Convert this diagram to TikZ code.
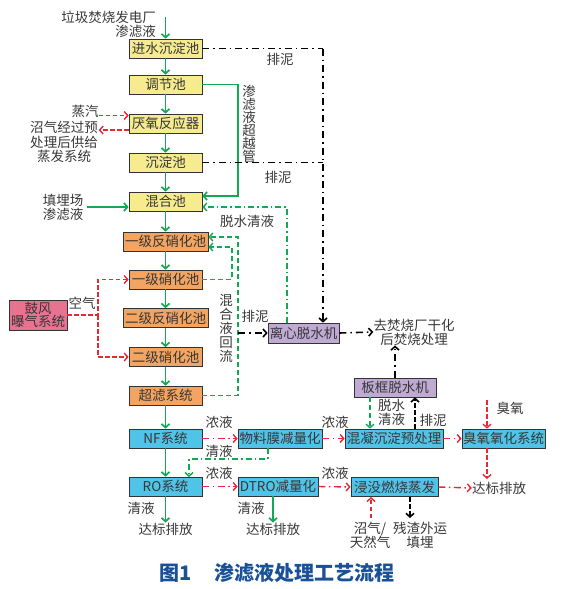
\documentclass[tikz,border=0pt]{standalone}
\usepackage{fontspec}
\setmainfont{Noto Sans CJK SC}
\usetikzlibrary{arrows.meta,calc}
\definecolor{yel}{RGB}{246,236,143}
\definecolor{org}{RGB}{242,164,96}
\definecolor{blu}{RGB}{80,195,232}
\definecolor{pur}{RGB}{191,170,212}
\definecolor{pnk}{RGB}{232,115,145}
\definecolor{grn}{RGB}{20,168,85}
\definecolor{rd}{RGB}{232,40,50}
\definecolor{txt}{RGB}{55,55,55}
\definecolor{capblue}{RGB}{25,80,150}
\tikzset{
  bx/.style={draw=black!80, line width=0.7pt, minimum height=19pt, minimum width=73pt, inner sep=0pt, text=txt},
  yb/.style={bx, fill=yel},
  ob/.style={bx, fill=org},
  bb/.style={bx, fill=blu},
  pb/.style={bx, fill=pur},
  lbl/.style={text=txt, inner sep=0pt},
  tip/.style={-{Straight Barb[length=3.6pt,width=8pt]}},
  gs/.style={draw=grn, line width=1.7pt},
  gdash/.style={draw=grn, line width=1.4pt, dash pattern=on 5pt off 3pt},
  gdd/.style={draw=grn, line width=1.4pt, dash pattern=on 6pt off 3pt on 1.5pt off 3pt},
  rdash/.style={draw=rd, line width=1.4pt, dash pattern=on 4.5pt off 2.5pt},
  rdd/.style={draw=rd, line width=1.4pt, dash pattern=on 7pt off 3.5pt on 1.5pt off 3.5pt},
  bdd/.style={draw=black, line width=1.6pt, dash pattern=on 7pt off 4pt on 1.5pt off 4pt},
  bdash/.style={draw=black, line width=1.6pt, dash pattern=on 4.5pt off 2.5pt}
}
\begin{document}
\begin{tikzpicture}[x=1pt,y=-1pt,font=\fontsize{13.5}{14}\selectfont]
\useasboundingbox (0,0) rectangle (565,589);
% main column
\node[yb] (n1) at (165.5,48.5) {进水沉淀池};
\node[yb] (n2) at (165.5,84.5) {调节池};
\node[yb] (n3) at (165.5,123.5) {厌氧反应器};
\node[yb] (n4) at (165.5,162.5) {沉淀池};
\node[yb] (n5) at (165.5,201.5) {混合池};
\node[ob,minimum width=85pt] (n6) at (165.5,241.5) {一级反硝化池};
\node[ob] (n7) at (165.5,279.5) {一级硝化池};
\node[ob,minimum width=85pt] (n8) at (165.5,318) {二级反硝化池};
\node[ob] (n9) at (165.5,357) {二级硝化池};
\node[ob] (n10) at (165.5,395.5) {超滤系统};
\node[bb] (nf) at (165.5,438.5) {NF系统};
\node[bb] (ro) at (165.5,486.5) {RO系统};
\node[bb,minimum width=84pt] (wl) at (280,438.5) {物料膜减量化};
\node[bb,minimum width=80pt] (dt) at (278,486.5) {DTRO减量化};
\node[bb,minimum width=98pt] (hn) at (394,438.5) {混凝沉淀预处理};
\node[bb,minimum width=83pt] (cy) at (503.5,438.5) {臭氧氧化系统};
\node[bb,minimum width=87pt] (jm) at (394.5,487) {浸没燃烧蒸发};
\node[pb,minimum width=82pt] (bk) at (395,387.5) {板框脱水机};
\node[pb,minimum width=71pt,minimum height=20pt] (lx) at (303.5,333) {离心脱水机};
\node[bx,fill=pnk,minimum width=58pt,minimum height=30pt,align=center,font=\fontsize{13.5}{13.5}\selectfont] (gf) at (38,315) {鼓风\\曝气系统};
% texts
\node[lbl,anchor=east,align=right] (s1) at (156,24.5) {垃圾焚烧发电厂\\渗滤液};
\node[lbl] (zq) at (85,111) {蒸汽};
\node[lbl,align=center,font=\fontsize{13.5}{14.5}\selectfont] (zg) at (64,142) {沼气经过预\\处理后供给\\蒸发系统};
\node[lbl,align=center] (tm) at (63,207) {填埋场\\渗滤液};
\node[lbl,align=center,font=\fontsize{13.5}{13}\selectfont] (cyg) at (249,124) {渗\\滤\\液\\超\\越\\管};
\node[lbl] (pn1) at (280,59) {排泥};
\node[lbl] (pn2) at (278,177) {排泥};
\node[lbl] (tsq) at (247,221) {脱水清液};
\node[lbl,align=center,font=\fontsize{13.5}{14}\selectfont] (hhl) at (226,328) {混\\合\\液\\回\\流};
\node[lbl] (pn3) at (255,316) {排泥};
\node[lbl] (kq) at (82,303) {空气};
\node[lbl,align=center] (qf) at (414,332) {去焚烧厂干化\\后焚烧处理};
\node[lbl] (ny1) at (219,422) {浓液};
\node[lbl] (qy1) at (219,451) {清液};
\node[lbl] (ny2) at (219,473) {浓液};
\node[lbl] (ny3) at (335,422) {浓液};
\node[lbl] (ny4) at (335,473) {浓液};
\node[lbl] (qy2) at (141,508) {清液};
\node[lbl] (qy3) at (251,508) {清液};
\node[lbl] (d1) at (165.5,529) {达标排放};
\node[lbl] (d2) at (273,529) {达标排放};
\node[lbl] (d3) at (499,488) {达标排放};
\node[lbl,align=left,anchor=west] (tsq2) at (378,412.5) {脱水\\清液};
\node[lbl] (pn4) at (433,420) {排泥};
\node[lbl] (cyy) at (510,408) {臭氧};
\node[lbl,align=center] (zqt) at (370,535) {沼气/\\天然气};
\node[lbl,align=center] (cz) at (420,535) {残渣外运\\填埋};
\node[text=capblue,inner sep=0pt,font=\fontsize{20}{22}\bfseries\selectfont] (cap) at (277,573) {图1\hspace{1.1em}渗滤液处理工艺流程};
% coordinates
\coordinate (src) at (165.5,17);
\coordinate (c1) at (323,48.5);
\coordinate (c2) at (323,162.5);
% main green flow
\draw[gs,tip] (src) -- (n1.north);
\foreach \a/\b in {n1/n2,n2/n3,n3/n4,n4/n5,n5/n6,n6/n7,n7/n8,n8/n9,n9/n10,n10/nf,nf/ro} \draw[gs,tip] (\a.south) -- (\b.north);
% bypass
\draw[gs,tip] (n2.east) -- (238,84.5) -- (238,196) -- ($(n5.east)+(0,-5.5)$);
\draw[gs,tip] ($(tm.east)+(4,0)$) -- ($(n5.west)+(0,5.5)$);
% sludge lines
\draw[bdd] (n1.east) -- (c1);
\draw[bdd,tip] (c1) -- (c1 |- lx.north);
\draw[bdd] (n4.east) -- (c2);
% steam / biogas
\draw[rdash,tip] ($(n3.west)+(-30,-8)$) -- ($(n3.west)+(0,-8)$);
\draw[rdash,tip] ($(n3.west)+(0,6.5)$) -- ($(n3.west)+(-30,6.5)$);
% dewatering liquid back to mixing tank
\draw[gdd,tip] ($(lx.north)+(-16.5,0)$) -- (287,207) -- ($(n5.east)+(0,5.5)$);
% mixed liquor return
\draw[gdash,tip] (n10.east) -- (238,395.5) -- (238,237) -- ($(n6.east)+(0,-4.5)$);
\draw[gdash,tip] (n7.east) -- (232,279.5) -- (232,247) -- ($(n6.east)+(0,5.5)$);
\draw[bdd,tip] (238,333) -- (lx.west);
\draw[bdd,tip] (lx.east) -- (qf.west);
\draw[bdd,tip] (bk.north) -- (bk.north |- qf.south);
% air
\draw[rdash,tip] (gf.east) -- (98,315) -- (98,279.5) -- (n7.west);
\draw[rdash,tip] (98,315) -- (98,357) -- (n9.west);
% membrane stage
\draw[rdd,tip] (nf.east) -- (wl.west);
\draw[rdd,tip] (ro.east) -- (dt.west);
\draw[gdd,tip] ($(wl.south)+(-12,0)$) -- (268,459) -- (189,459) -- (189,477);
\draw[gs,tip] (ro.south) -- (d1.north);
\draw[gs,tip] (d2.north |- dt.south) -- (d2.north);
\draw[rdd,tip] (wl.east) -- (hn.west);
\draw[rdd,tip] (hn.east) -- (cy.west);
\draw[rdd,tip] (dt.east) -- (jm.west);
\draw[rdd,tip] (jm.east) -- (d3.west);
\draw[gdash,tip] ($(bk.south)+(-25,0)$) -- ($(hn.north)+(-24,0)$);
\draw[bdash,tip] ($(hn.north)+(21,0)$) -- ($(bk.south)+(20,0)$);
\draw[rdash,tip] (487,400) -- ($(cy.north)+(-16.5,0)$);
\draw[rdash,tip] ($(cy.south)+(-16.5,0)$) -- (487,479);
\draw[rdash,tip] (371,518) -- (371,497);
\draw[bdash,tip] (410,497) -- (410,518);
\end{tikzpicture}
\end{document}
